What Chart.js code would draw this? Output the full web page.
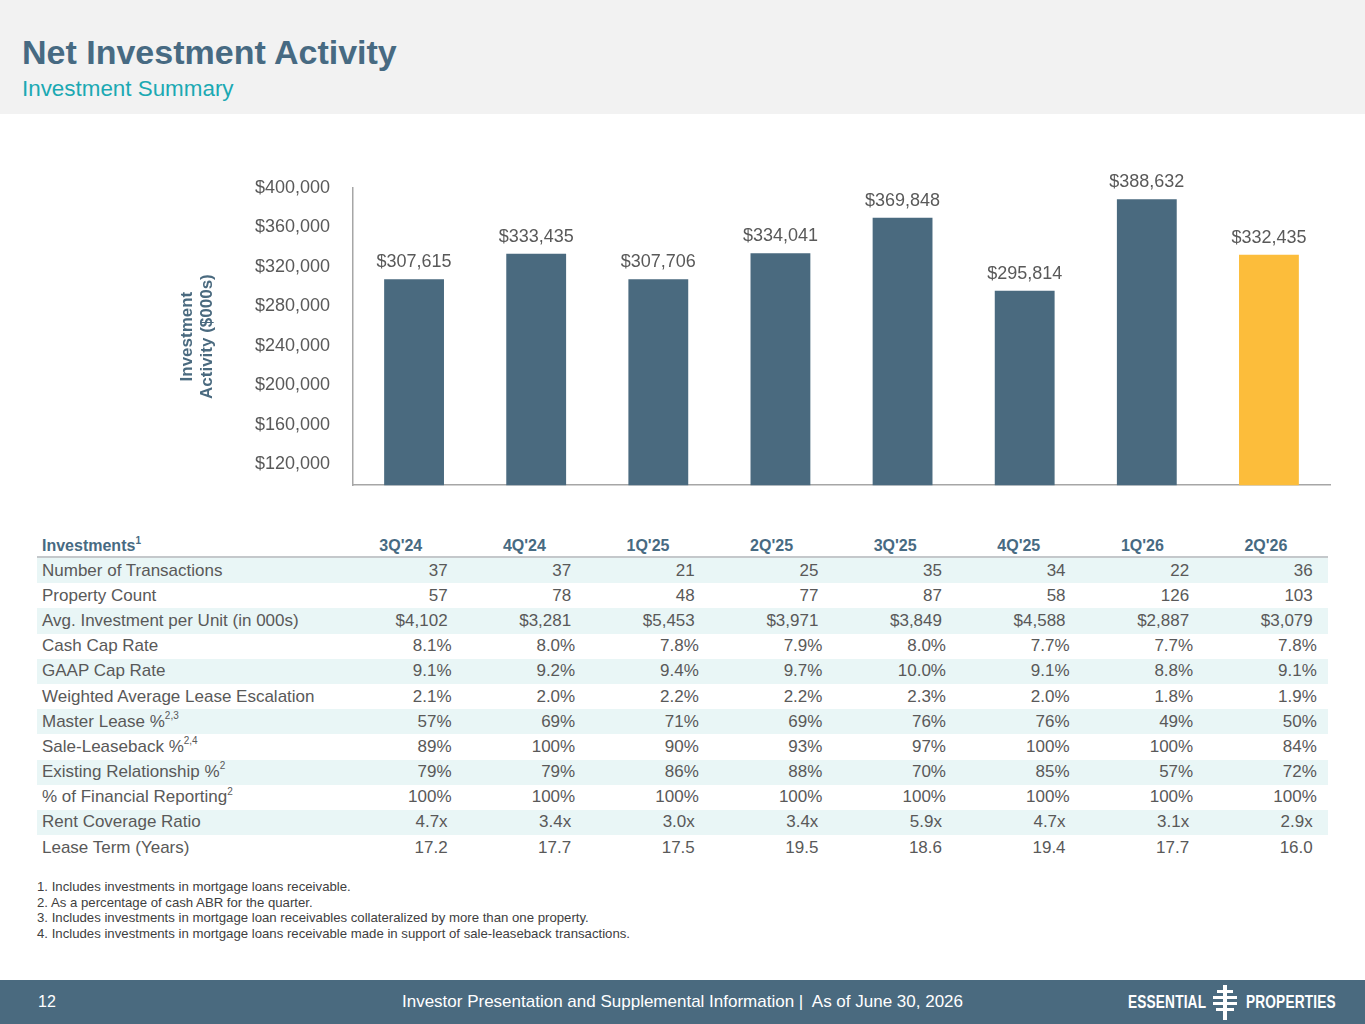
<!DOCTYPE html>
<html lang="en">
<head>
  <meta charset="UTF-8" />
  <title>Net Investment Activity</title>
  <style>
    body {
      margin: 0;
      font-family: 'Liberation Sans', Arial, sans-serif;
      background-color: #fff;
      color: #595959;
    }
    .page {
      position: relative;
      width: 1365px;
      height: 1024px;
      overflow: hidden;
    }
    .top-band {
      position: absolute;
      left: 0; top: 0;
      width: 1365px; height: 114px;
      background-color: #f2f2f2;
    }
    .title {
      position: absolute;
      left: 22px; top: 35px;
      font-size: 34px;
      line-height: 34px;
      font-weight: bold;
      color: #476a82;
      white-space: nowrap;
    }
    .subtitle {
      position: absolute;
      left: 22px; top: 78px;
      font-size: 22.4px;
      line-height: 22px;
      color: #1ba9b3;
      white-space: nowrap;
    }
    .chart-box {
      position: absolute;
      left: 0; top: 130px;
      width: 1365px; height: 389px;
    }
    .table {
      position: absolute;
      left: 37px; top: 535px;
      width: 1291px;
    }
    .row {
      display: flex;
      height: 25.2px;
      align-items: center;
      font-size: 17px;
      color: #595959;
    }
    .row.striped { background-color: #e9f6f6; }
    .row.head {
      height: 21px;
      border-bottom: 2px solid #c4c8cb;
      font-size: 16px;
      font-weight: bold;
      color: #476a82;
      align-items: flex-end;
    }
    .row .label {
      width: 297px;
      padding-left: 5px;
      white-space: nowrap;
    }
    .row .cell {
      width: 123.6px;
      box-sizing: border-box;
      text-align: right;
      padding-right: 15px;
      white-space: nowrap;
    }
    .row .cell.pct { padding-right: 11px; }
    .row.head .cell {
      text-align: center;
      padding-right: 0;
      padding-bottom: 1px;
    }
    .row.head .label { padding-bottom: 1px; }
    sup {
      font-size: 10px;
      line-height: 0;
      position: relative;
      top: -1px;
    }
    .notes {
      position: absolute;
      left: 37px; top: 879px;
      font-size: 13.2px;
      line-height: 15.6px;
      color: #404040;
      white-space: nowrap;
    }
    .footer {
      position: absolute;
      left: 0; top: 980px;
      width: 1365px; height: 44px;
      background-color: #4a6a7f;
      color: #fff;
    }
    .footer .page-no {
      position: absolute;
      left: 38px; top: 13px;
      font-size: 16px;
    }
    .footer .caption {
      position: absolute;
      left: 0; top: 12px;
      width: 1365px;
      text-align: center;
      font-size: 17px;
    }
    .logo-word {
      position: absolute;
      top: 12px;
      font-size: 18px;
      line-height: 20px;
      font-weight: bold;
      transform: scaleX(0.76);
      transform-origin: left center;
      letter-spacing: 0.2px;
    }
    .logo-bar {
      position: absolute;
      background-color: #fff;
    }
  </style>
</head>
<body>
  <div class="page">
    <div class="top-band"></div>
    <div class="title">Net Investment Activity</div>
    <div class="subtitle">Investment Summary</div>

    <div class="chart-box"><canvas id="activityChart"></canvas></div>

    <div class="table" id="summaryTable"></div>

    <div class="notes">
      1. Includes investments in mortgage loans receivable.<br>
      2. As a percentage of cash ABR for the quarter.<br>
      3. Includes investments in mortgage loan receivables collateralized by more than one property.<br>
      4. Includes investments in mortgage loans receivable made in support of sale-leaseback transactions.
    </div>

    <div class="footer">
      <div class="page-no">12</div>
      <div class="caption">Investor Presentation and Supplemental Information |&nbsp; As of June 30, 2026</div>
      <div class="logo-word" style="left:1128px;">ESSENTIAL</div>
      <div class="logo-word" style="left:1246px;">PROPERTIES</div>
      <!-- little ladder mark between the two words -->
      <div class="logo-bar" style="left:1223px; top:5px; width:4px; height:35px;"></div>
      <div class="logo-bar" style="left:1217px; top:10px; width:16px; height:3px;"></div>
      <div class="logo-bar" style="left:1213px; top:16px; width:24px; height:3px;"></div>
      <div class="logo-bar" style="left:1213px; top:22px; width:24px; height:3px;"></div>
      <div class="logo-bar" style="left:1216px; top:28px; width:18px; height:3px;"></div>
    </div>
  </div>

  <script src="https://cdn.jsdelivr.net/npm/chart.js"></script>
  <script>
    // Chart data
    const quarters = ["3Q'24", "4Q'24", "1Q'25", "2Q'25", "3Q'25", "4Q'25", "1Q'26", "2Q'26"];
    const investmentActivity = [307615, 333435, 307706, 334041, 369848, 295814, 388632, 332435];
    const yTickValues = [120000, 160000, 200000, 240000, 280000, 320000, 360000, 400000];

    // Table data
    const rowLabels = [
      'Number of Transactions', 'Property Count', 'Avg. Investment per Unit (in 000s)',
      'Cash Cap Rate', 'GAAP Cap Rate', 'Weighted Average Lease Escalation',
      'Master Lease %', 'Sale-Leaseback %', 'Existing Relationship %',
      '% of Financial Reporting', 'Rent Coverage Ratio', 'Lease Term (Years)'
    ];
    const rowNotes = ['', '', '', '', '', '', '2,3', '2,4', '2', '2', '', ''];
    const transactions = ['37', '37', '21', '25', '35', '34', '22', '36'];
    const propertyCount = ['57', '78', '48', '77', '87', '58', '126', '103'];
    const avgInvestment = ['$4,102', '$3,281', '$5,453', '$3,971', '$3,849', '$4,588', '$2,887', '$3,079'];
    const cashCapRate = ['8.1%', '8.0%', '7.8%', '7.9%', '8.0%', '7.7%', '7.7%', '7.8%'];
    const gaapCapRate = ['9.1%', '9.2%', '9.4%', '9.7%', '10.0%', '9.1%', '8.8%', '9.1%'];
    const leaseEscalation = ['2.1%', '2.0%', '2.2%', '2.2%', '2.3%', '2.0%', '1.8%', '1.9%'];
    const masterLease = ['57%', '69%', '71%', '69%', '76%', '76%', '49%', '50%'];
    const saleLeaseback = ['89%', '100%', '90%', '93%', '97%', '100%', '100%', '84%'];
    const existingRelationship = ['79%', '79%', '86%', '88%', '70%', '85%', '57%', '72%'];
    const financialReporting = ['100%', '100%', '100%', '100%', '100%', '100%', '100%', '100%'];
    const rentCoverage = ['4.7x', '3.4x', '3.0x', '3.4x', '5.9x', '4.7x', '3.1x', '2.9x'];
    const leaseTerm = ['17.2', '17.7', '17.5', '19.5', '18.6', '19.4', '17.7', '16.0'];

    const tableRows = [transactions, propertyCount, avgInvestment, cashCapRate, gaapCapRate,
      leaseEscalation, masterLease, saleLeaseback, existingRelationship, financialReporting,
      rentCoverage, leaseTerm];

    function buildTable() {
      const table = document.getElementById('summaryTable');
      let html = '<div class="row head"><div class="label">Investments<sup>1</sup></div>';
      quarters.forEach(q => { html += '<div class="cell">' + q + '</div>'; });
      html += '</div>';
      tableRows.forEach((vals, i) => {
        const note = rowNotes[i] ? '<sup>' + rowNotes[i] + '</sup>' : '';
        html += '<div class="row' + (i % 2 === 0 ? ' striped' : '') + '">';
        html += '<div class="label">' + rowLabels[i] + note + '</div>';
        vals.forEach(v => {
          html += '<div class="cell' + (v.endsWith('%') ? ' pct' : '') + '">' + v + '</div>';
        });
        html += '</div>';
      });
      table.innerHTML = html;
    }
    buildTable();

    const fmtMoney = v => '$' + v.toLocaleString('en-US');

    // value labels over each bar
    const barLabels = {
      id: 'barLabels',
      afterDatasetsDraw(chart) {
        const ctx = chart.ctx;
        const meta = chart.getDatasetMeta(0);
        ctx.save();
        ctx.font = "18px 'Liberation Sans', Arial, sans-serif";
        ctx.fillStyle = '#595959';
        ctx.textAlign = 'center';
        ctx.textBaseline = 'alphabetic';
        meta.data.forEach((bar, i) => {
          ctx.fillText(fmtMoney(investmentActivity[i]), bar.x, bar.y - 12);
        });
        ctx.restore();
      }
    };

    Chart.defaults.font.family = "'Liberation Sans', Arial, sans-serif";
    Chart.defaults.color = '#595959';

    new Chart(document.getElementById('activityChart'), {
      type: 'bar',
      data: {
        labels: quarters,
        datasets: [{
          data: investmentActivity,
          backgroundColor: ctx => ctx.dataIndex === investmentActivity.length - 1 ? '#fcbd3b' : '#4a6a7f',
          borderWidth: 0,
          barPercentage: 0.49,
          categoryPercentage: 1
        }]
      },
      options: {
        responsive: true,
        maintainAspectRatio: false,
        animation: false,
        layout: { padding: { left: 160, top: 58, right: 35, bottom: 11 } },
        plugins: {
          legend: { display: false },
          tooltip: { enabled: false }
        },
        scales: {
          x: {
            grid: { display: false, drawTicks: false },
            border: { display: true, color: '#a6a6a6', width: 1.5 },
            ticks: { display: false },
            afterFit: s => { s.height = 6; }
          },
          y: {
            min: 99000,
            max: 400000,
            grid: { display: false, drawTicks: false },
            border: { display: true, color: '#a6a6a6', width: 1.5 },
            afterBuildTicks: s => { s.ticks = yTickValues.map(v => ({ value: v })); },
            afterFit: s => { s.width = 193; },
            ticks: {
              padding: 23,
              font: { size: 18 },
              color: '#595959',
              callback: v => fmtMoney(v)
            },
            title: {
              display: true,
              text: ['Investment', 'Activity ($000s)'],
              color: '#4a6a7f',
              font: { size: 17, weight: 'bold', lineHeight: 1.2 },
              padding: { top: 17, bottom: 0 }
            }
          }
        }
      },
      plugins: [barLabels]
    });
  </script>
</body>
</html>
